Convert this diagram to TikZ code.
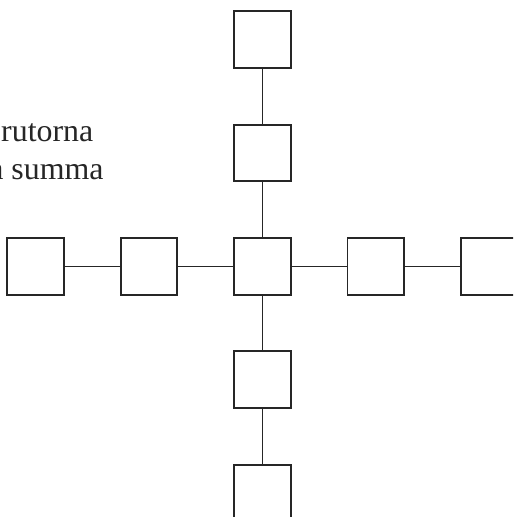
\documentclass[tikz,border=0pt]{standalone}
\usepackage{fontspec}
\setmainfont{Liberation Serif}
\begin{document}
\begin{tikzpicture}[line width = 0.8pt, black!85, node font = \fontsize{16}{19}\selectfont,
        cell/.style = {draw, line width = 1pt, minimum size = 1cm, inner sep = 0pt}]
            \useasboundingbox (-4.63,-4.42) rectangle (4.42,4.70);
            \clip (-4.63,-4.42) rectangle (4.42,4.70);
            \node [cell] (c) at (0,0) {};
            \foreach \n/\x/\y in {u1/0/2,u2/0/4,d1/0/-2,d2/0/-4,l1/-2/0,l2/-4/0,r1/2/0,r2/4/0}
                \node [cell] (\n) at (\x,\y) {};
            \foreach \a/\b in {c/u1,u1/u2,c/d1,d1/d2,c/l1,l1/l2,c/r1,r1/r2}
                \draw (\a) -- (\b);
            \node [anchor = base east, inner sep = 0pt] (t1) at (-2.97,2.20) {rutorna};
            \node [anchor = base east, inner sep = 0pt] (t2) at (-2.79,1.54) {a summa};
        \end{tikzpicture}
\end{document}
